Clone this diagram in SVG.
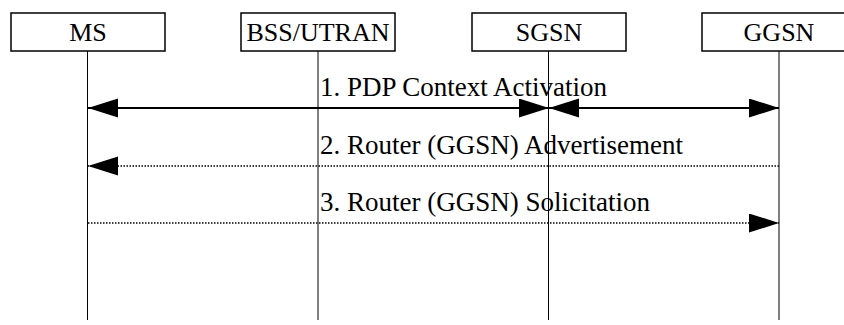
<svg xmlns="http://www.w3.org/2000/svg" width="844" height="325" viewBox="0 0 844 325">
<style>
  .box { fill: #fff; stroke: #000; stroke-width: 1.5; }
  .life { stroke: #000; stroke-width: 1; fill: none; }
  .t { font-family: "Liberation Serif", "Times New Roman", serif; font-size: 26px; fill: #000; }
  .lbl { font-size: 27px; }
  .name { text-anchor: middle; }
  .solid { stroke: #000; stroke-width: 2; fill: none; }
  .dot { stroke: #000; stroke-width: 1.5; stroke-dasharray: 1.5 1.5; fill: none; }
</style>
<defs>
  <marker id="ah" markerUnits="userSpaceOnUse" markerWidth="31" markerHeight="20" refX="30" refY="9.5" orient="auto-start-reverse">
    <path d="M0,0 L30,9.5 L0,19 Z" fill="#000"/>
  </marker>
</defs>
<rect width="844" height="325" fill="#fff"/>
<g id="node-ms">
  <rect class="box" x="11" y="13" width="154" height="38"/>
  <text class="t name" x="88" y="41">MS</text>
  <line class="life" x1="87.5" y1="51" x2="87.5" y2="320"/>
</g>
<g id="node-bss">
  <rect class="box" x="241" y="13" width="154" height="38"/>
  <text class="t name" x="318" y="41">BSS/UTRAN</text>
  <line class="life" x1="318" y1="51" x2="318" y2="320"/>
</g>
<g id="node-sgsn">
  <rect class="box" x="472" y="13" width="154" height="38"/>
  <text class="t name" x="549" y="41">SGSN</text>
  <line class="life" x1="548.5" y1="51" x2="548.5" y2="320"/>
</g>
<g id="node-ggsn">
  <rect class="box" x="702" y="13" width="154" height="38"/>
  <text class="t name" x="779" y="41">GGSN</text>
  <line class="life" x1="779" y1="51" x2="779" y2="320"/>
</g>
<g id="connectors">
  <line class="solid" x1="88" y1="108" x2="549" y2="108" marker-start="url(#ah)" marker-end="url(#ah)"/>
  <line class="solid" x1="549" y1="108" x2="779" y2="108" marker-start="url(#ah)" marker-end="url(#ah)"/>
  <line class="dot" x1="779" y1="166" x2="88" y2="166" marker-end="url(#ah)"/>
  <line class="dot" x1="88" y1="223" x2="779" y2="223" marker-end="url(#ah)"/>
  <text class="t lbl" x="320" y="96">1. PDP Context Activation</text>
  <text class="t lbl" x="320" y="154">2. Router (GGSN) Advertisement</text>
  <text class="t lbl" x="320" y="211">3. Router (GGSN) Solicitation</text>
</g>
</svg>
